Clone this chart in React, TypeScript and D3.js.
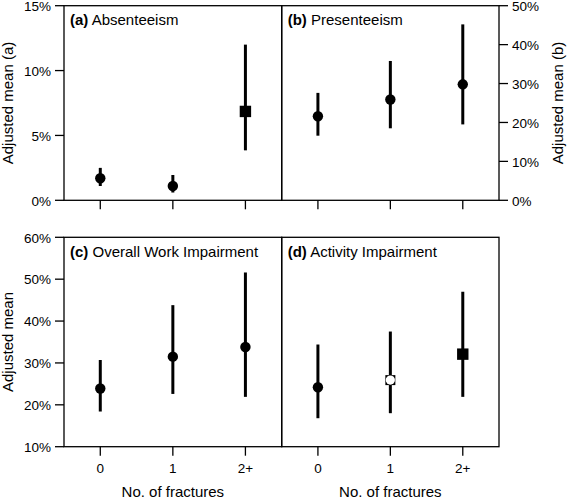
import React from "react";
import * as d3 from "d3";

const categories = ["0", "1", "2+"];
// Panel a: Absenteeism
const absMean = [1.7, 1.1, 6.85];
const absLow = [1.1, 0.6, 3.85];
const absHigh = [2.5, 1.95, 12.0];
const absShape = ["circle", "circle", "square"];
// Panel b: Presenteeism
const preMean = [21.6, 25.9, 29.8];
const preLow = [16.6, 18.5, 19.5];
const preHigh = [27.6, 35.8, 45.2];
const preShape = ["circle", "circle", "circle"];
// Panel c: Overall Work Impairment
const owiMean = [23.9, 31.5, 33.8];
const owiLow = [18.4, 22.6, 21.9];
const owiHigh = [30.7, 43.8, 51.6];
const owiShape = ["circle", "circle", "circle"];
// Panel d: Activity Impairment
const actMean = [24.2, 25.9, 32.1];
const actLow = [16.8, 18.0, 21.9];
const actHigh = [34.4, 37.5, 47.0];
const actShape = ["circle", "open", "square"];

const ticksA = [0, 5, 10, 15];
const ticksB = [0, 10, 20, 30, 40, 50];
const ticksC = [10, 20, 30, 40, 50, 60];

const FONT = "Liberation Sans, Arial, sans-serif";

const X0 = 64;
const XM = 281.7;
const X1 = 499;
const TOP0 = 5.7;
const BOT0 = 200.3;
const TOP1 = 237.3;
const BOT1 = 446.7;

type PanelProps = {
  xRange: [number, number];
  y: d3.ScaleLinear<number, number>;
  mean: number[];
  low: number[];
  high: number[];
  shape: string[];
  letter: string;
  title: string;
  showXLabels: boolean;
};

function Panel({ xRange, y, mean, low, high, shape, letter, title, showXLabels }: PanelProps) {
  const x = d3.scalePoint<string>().domain(categories).range(xRange).padding(0.5);
  const [yb, yt] = y.range();
  return (
    <g>
      <rect x={xRange[0]} y={yt} width={xRange[1] - xRange[0]} height={yb - yt} fill="none" stroke="#000" strokeWidth={1.3} />
      {categories.map((c) => (
        <line key={"t" + c} x1={x(c)} x2={x(c)} y1={yb} y2={yb + 9} stroke="#000" strokeWidth={1.3} />
      ))}
      {showXLabels &&
        categories.map((c) => (
          <text key={"l" + c} x={x(c)} y={473} textAnchor="middle" fontSize={13.5} fontFamily={FONT}>
            {c}
          </text>
        ))}
      <text x={xRange[0] + 6} y={yt + 19.5} fontSize={15} fontFamily={FONT}>
        <tspan fontWeight="bold">{"(" + letter + ")"}</tspan>
        <tspan>{" " + title}</tspan>
      </text>
      {categories.map((c, i) => {
        const cx = x(c) as number;
        const cy = y(mean[i]);
        return (
          <g key={"m" + c}>
            <line x1={cx} x2={cx} y1={y(low[i])} y2={y(high[i])} stroke="#000" strokeWidth={3} />
            {shape[i] === "circle" && <circle cx={cx} cy={cy} r={5.2} fill="#000" />}
            {shape[i] === "square" && <rect x={cx - 5.7} y={cy - 5.7} width={11.4} height={11.4} fill="#000" />}
            {shape[i] === "open" && (
              <g>
                <rect x={cx - 5} y={cy - 5} width={10} height={10} fill="#000" />
                <circle cx={cx} cy={cy} r={4.6} fill="#fff" />
              </g>
            )}
          </g>
        );
      })}
    </g>
  );
}

function LeftAxis({ y, ticks, x }: { y: d3.ScaleLinear<number, number>; ticks: number[]; x: number }) {
  return (
    <g>
      {ticks.map((t) => (
        <g key={t}>
          <line x1={x - 9} x2={x} y1={y(t)} y2={y(t)} stroke="#000" strokeWidth={1.3} />
          <text x={x - 13} y={y(t) + 5.2} textAnchor="end" fontSize={13.5} fontFamily={FONT}>
            {t + "%"}
          </text>
        </g>
      ))}
    </g>
  );
}

function RightAxis({ y, ticks, x }: { y: d3.ScaleLinear<number, number>; ticks: number[]; x: number }) {
  return (
    <g>
      {ticks.map((t) => (
        <g key={t}>
          <line x1={x} x2={x + 9} y1={y(t)} y2={y(t)} stroke="#000" strokeWidth={1.3} />
          <text x={x + 13} y={y(t) + 5.2} textAnchor="start" fontSize={13.5} fontFamily={FONT}>
            {t + "%"}
          </text>
        </g>
      ))}
    </g>
  );
}

export default function App() {
  const yA = d3.scaleLinear().domain([0, 15]).range([BOT0, TOP0]);
  const yB = d3.scaleLinear().domain([0, 50]).range([BOT0, TOP0]);
  const yC = d3.scaleLinear().domain([10, 60]).range([BOT1, TOP1]);
  return (
    <svg width={567} height={500} style={{ position: "absolute", left: 0, top: 0, background: "#fff" }}>
      <rect x={0} y={0} width={567} height={500} fill="#fff" />
      <Panel xRange={[X0, XM]} y={yA} mean={absMean} low={absLow} high={absHigh} shape={absShape} letter="a" title="Absenteeism" showXLabels={false} />
      <Panel xRange={[XM, X1]} y={yB} mean={preMean} low={preLow} high={preHigh} shape={preShape} letter="b" title="Presenteeism" showXLabels={false} />
      <Panel xRange={[X0, XM]} y={yC} mean={owiMean} low={owiLow} high={owiHigh} shape={owiShape} letter="c" title="Overall Work Impairment" showXLabels={true} />
      <Panel xRange={[XM, X1]} y={yC} mean={actMean} low={actLow} high={actHigh} shape={actShape} letter="d" title="Activity Impairment" showXLabels={true} />
      <LeftAxis y={yA} ticks={ticksA} x={X0} />
      <RightAxis y={yB} ticks={ticksB} x={X1} />
      <LeftAxis y={yC} ticks={ticksC} x={X0} />
      <text transform={`translate(13,${(TOP0 + BOT0) / 2}) rotate(-90)`} textAnchor="middle" fontSize={15} fontFamily={FONT}>
        Adjusted mean (a)
      </text>
      <text transform={`translate(563,${(TOP0 + BOT0) / 2}) rotate(-90)`} textAnchor="middle" fontSize={15} fontFamily={FONT}>
        Adjusted mean (b)
      </text>
      <text transform={`translate(13,${(TOP1 + BOT1) / 2}) rotate(-90)`} textAnchor="middle" fontSize={15} fontFamily={FONT}>
        Adjusted mean
      </text>
      <text x={(X0 + XM) / 2} y={497} textAnchor="middle" fontSize={15} fontFamily={FONT}>
        No. of fractures
      </text>
      <text x={(XM + X1) / 2} y={497} textAnchor="middle" fontSize={15} fontFamily={FONT}>
        No. of fractures
      </text>
    </svg>
  );
}
